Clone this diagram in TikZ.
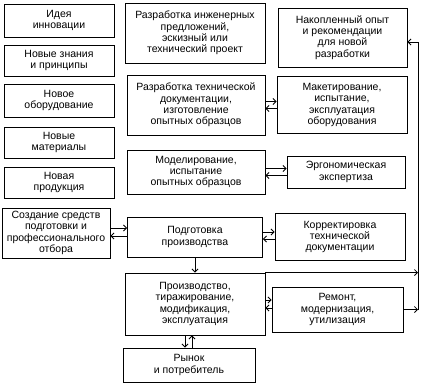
\documentclass[tikz,border=0pt]{standalone}
\usepackage{fontspec}
\setmainfont{Liberation Sans}
\usetikzlibrary{arrows.meta}
\begin{document}
\begin{tikzpicture}[x=1pt,y=-1pt,
  box/.style={draw, line width=0.9pt, align=center, inner sep=1pt,
    font=\fontsize{10.5}{11.3}\selectfont},
  conn/.style={line width=0.8pt, -{Straight Barb[length=3pt,width=6pt]}}]
\useasboundingbox (0,0) rectangle (428,389);
% left column
\node[box, minimum width=110pt, minimum height=33pt] (idea) at (59,20.5) {Идея\\инновации};
\node[box, minimum width=110pt, minimum height=31pt] (zn) at (59,60.5) {Новые знания\\и принципы};
\node[box, minimum width=110pt, minimum height=33pt] (ob) at (59,100.5) {Новое\\оборудование};
\node[box, minimum width=110pt, minimum height=31pt] (mat) at (59,142.5) {Новые\\материалы};
\node[box, minimum width=110pt, minimum height=31pt] (prod) at (59,182.5) {Новая\\продукция};
\node[box, minimum width=108pt, minimum height=50pt] (sozd) at (56,233) {Создание средств\\подготовки и\\профессионального\\отбора};
% middle column
\node[box, minimum width=140pt, minimum height=60pt] (inzh) at (195,33) {Разработка инженерных\\предложений,\\эскизный или\\технический проект};
\node[box, minimum width=138pt, minimum height=60pt] (tech) at (196,105) {Разработка технической\\документации,\\изготовление\\опытных образцов};
\node[box, minimum width=138pt, minimum height=44pt] (model) at (196,172) {Моделирование,\\испытание\\опытных образцов};
\node[box, minimum width=135pt, minimum height=40pt] (podg) at (195,237) {Подготовка\\производства};
\node[box, minimum width=140pt, minimum height=62pt] (proizv) at (195,304) {Производство,\\тиражирование,\\модификация,\\эксплуатация};
\node[box, minimum width=132pt, minimum height=34pt] (rynok) at (189,365) {Рынок\\и потребитель};
% right column
\node[box, minimum width=129pt, minimum height=59pt] (nak) at (342.5,37.5) {Накопленный опыт\\и рекомендации\\для новой\\разработки};
\node[box, minimum width=130pt, minimum height=57pt] (maket) at (342,105) {Макетирование,\\испытание,\\эксплуатация\\оборудования};
\node[box, minimum width=118pt, minimum height=32pt] (ergo) at (346,172) {Эргономическая\\экспертиза};
\node[box, minimum width=130pt, minimum height=47pt] (korr) at (340,237) {Корректировка\\технической\\документации};
\node[box, minimum width=131pt, minimum height=45pt] (remont) at (337.5,309.5) {Ремонт,\\модернизация,\\утилизация};
% coordinates
\coordinate (t1) at ([yshift=3.5pt]tech.east);
\coordinate (t2) at ([yshift=-3.5pt]tech.east);
\coordinate (m1) at ([yshift=3.5pt]model.east);
\coordinate (m2) at ([yshift=-3.5pt]model.east);
\coordinate (s1) at ([yshift=5pt]sozd.east);
\coordinate (s2) at ([yshift=-3pt]sozd.east);
\coordinate (p1) at ([yshift=5pt]podg.east);
\coordinate (p2) at ([yshift=-2pt]podg.east);
\coordinate (q1) at ([yshift=4pt]proizv.east);
\coordinate (q2) at ([yshift=-4pt]proizv.east);
\coordinate (r1) at ([xshift=-4pt]rynok.north);
\coordinate (r2) at ([xshift=3pt]rynok.north);
\coordinate (fbtop) at (418,42);
\coordinate (fbbot) at (418,310);
% connectors
\draw[conn] (t1) -- (t1 -| maket.west);
\draw[conn] (t2 -| maket.west) -- (t2);
\draw[conn] (m1) -- (m1 -| ergo.west);
\draw[conn] (m2 -| ergo.west) -- (m2);
\draw[conn] (s1) -- (s1 -| podg.west);
\draw[conn] (s2 -| podg.west) -- (s2);
\draw[conn] (p1) -- (p1 -| korr.west);
\draw[conn] (p2 -| korr.west) -- (p2);
\draw[conn] (q1) -- (q1 -| remont.west);
\draw[conn] (q2 -| remont.west) -- (q2);
\draw[conn] (podg.south) -- (proizv.north);
\draw[conn] (r1 |- proizv.south) -- (r1);
\draw[conn] (r2) -- (r2 |- proizv.south);
\draw[conn] (proizv.north east) -- (proizv.north east -| fbbot);
\draw[conn] (remont.east) -- (remont.east -| fbbot);
\draw[conn] (fbbot) -- (fbtop) -- (fbtop -| nak.east);
\end{tikzpicture}
\end{document}
